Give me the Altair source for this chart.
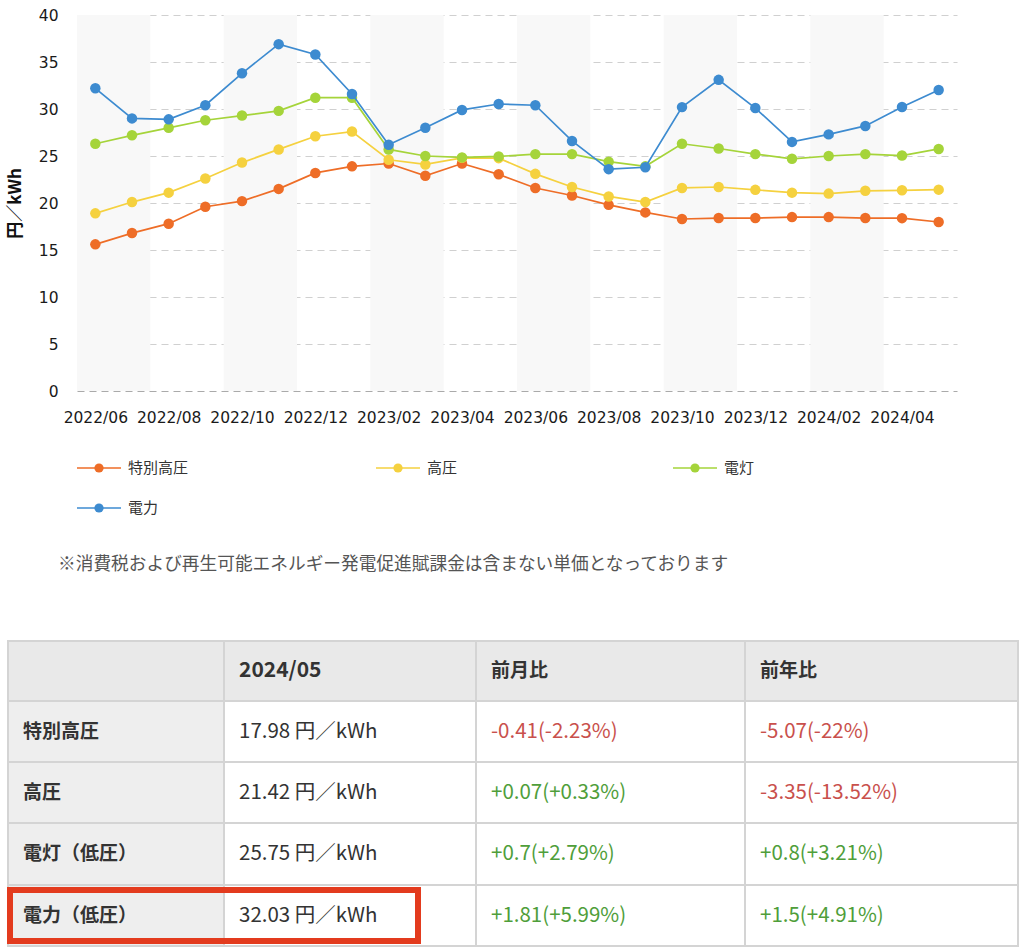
import json
import altair as alt
import pandas as pd

# ---------------- data ----------------
months = ["2022/06", "2022/07", "2022/08", "2022/09", "2022/10", "2022/11",
          "2022/12", "2023/01", "2023/02", "2023/03", "2023/04", "2023/05",
          "2023/06", "2023/07", "2023/08", "2023/09", "2023/10", "2023/11",
          "2023/12", "2024/01", "2024/02", "2024/03", "2024/04", "2024/05"]

series_names = ["特別高圧", "高圧", "電灯", "電力"]
series_colors = ["#ee6d27", "#f5d13f", "#a5d43a", "#3d8bd0"]

tokubetsu_koatsu = [15.6, 16.8, 17.8, 19.6, 20.2, 21.5, 23.2, 23.9, 24.2, 22.9, 24.2, 23.05,
                    21.6, 20.8, 19.8, 19.0, 18.3, 18.4, 18.4, 18.5, 18.5, 18.4, 18.39, 17.98]
koatsu = [18.9, 20.1, 21.1, 22.6, 24.3, 25.7, 27.1, 27.6, 24.6, 24.1, 24.8, 24.77,
          23.1, 21.7, 20.7, 20.1, 21.6, 21.7, 21.4, 21.1, 21.0, 21.3, 21.35, 21.42]
dento = [26.3, 27.2, 28.0, 28.8, 29.3, 29.8, 31.2, 31.2, 25.7, 25.0, 24.85, 24.95,
         25.2, 25.2, 24.4, 23.9, 26.3, 25.8, 25.2, 24.7, 25.0, 25.2, 25.05, 25.75]
denryoku = [32.2, 29.0, 28.9, 30.4, 33.8, 36.9, 35.8, 31.6, 26.2, 28.0, 29.9, 30.53,
            30.4, 26.6, 23.6, 23.8, 30.2, 33.1, 30.1, 26.5, 27.3, 28.2, 30.22, 32.03]
series_values = [tokubetsu_koatsu, koatsu, dento, denryoku]

y_title = "円／kWh"
note = "※消費税および再生可能エネルギー発電促進賦課金は含まない単価となっております"

table_header = ["", "2024/05", "前月比", "前年比"]
table_rows = ["特別高圧", "高圧", "電灯（低圧）", "電力（低圧）"]
table_current = ["17.98 円／kWh", "21.42 円／kWh", "25.75 円／kWh", "32.03 円／kWh"]
table_mom = ["-0.41(-2.23%)", "+0.07(+0.33%)", "+0.7(+2.79%)", "+1.81(+5.99%)"]
table_yoy = ["-5.07(-22%)", "-3.35(-13.52%)", "+0.8(+3.21%)", "+1.5(+4.91%)"]

# ---------------- layout constants ----------------
PLOT_W, PLOT_H = 880, 376
PLOT_LEFT, PLOT_BOTTOM = 77, 391
PAGE_W, PAGE_H = 1024, 952
LEG_X = [77, 376, 673]
LEG_Y = [468, 508]
NOTE_POS = (58, 565)
COL_EDGES = [8, 224, 476, 745, 1018]
ROW_EDGES = [641, 701, 762, 823, 885, 946]
CELL_PAD = 15
HILITE = (10, 418, 890, 941)

CJK = "Noto Sans CJK JP"

# ---------------- line chart ----------------
rows = []
for name, vals in zip(series_names, series_values):
    for i, v in enumerate(vals):
        rows.append({"i": i, "series": name, "v": v})
df = pd.DataFrame(rows)

shade_df = pd.DataFrame({
    "a": [k - 0.5 for k in range(0, len(months), 4)],
    "b": [k + 1.5 for k in range(0, len(months), 4)],
    "y0": 0, "y1": 40,
})

label_expr = json.dumps(months) + "[datum.value]"
xscale = alt.Scale(domain=[-0.5, len(months) - 0.5], nice=False, zero=False)
yscale = alt.Scale(domain=[0, 40], nice=False)
xaxis = alt.Axis(values=list(range(0, len(months), 2)), labelExpr=label_expr, title=None,
                 grid=False, ticks=False, domain=False, labelFont="DejaVu Sans",
                 labelFontSize=15.5, labelColor="#1a1a1a", labelPadding=19, labelFlush=False,
                 labelOverlap=False)
yaxis = alt.Axis(values=list(range(0, 41, 5)), title=y_title, titleFont=CJK, titleFontSize=17,
                 titleFontWeight="bold", titleColor="#111", titlePadding=14,
                 ticks=False, domain=False, labelFont="DejaVu Sans", labelFontSize=15.5,
                 labelColor="#1a1a1a", labelPadding=19, grid=True,
                 gridColor=alt.condition("datum.value === 0", alt.value("#aaaaaa"), alt.value("#d0d0d0")),
                 gridDash=[7, 5], gridWidth=1.2)

shade = alt.Chart(shade_df).mark_rect(color="#f8f8f8").encode(
    x=alt.X("a:Q", scale=xscale, axis=xaxis),
    x2="b:Q",
    y=alt.Y("y0:Q", scale=yscale, axis=yaxis),
    y2="y1:Q",
)

layers = [shade]
for name, color in zip(series_names, series_colors):
    sdf = df[df["series"] == name]
    base = alt.Chart(sdf).encode(
        x=alt.X("i:Q", scale=xscale, axis=xaxis),
        y=alt.Y("v:Q", scale=yscale, axis=yaxis),
    )
    layers.append(base.mark_line(color=color, strokeWidth=1.7))
    layers.append(base.mark_point(color=color, filled=True, opacity=1, size=110))

line_chart = alt.layer(*layers).properties(width=PLOT_W, height=PLOT_H)

# ---------------- bottom panel (legend, note, table) in page coordinates ----------------
BOT_H = PAGE_H - PLOT_BOTTOM
PX = alt.Scale(domain=[0, PAGE_W], range=[-PLOT_LEFT, PAGE_W - PLOT_LEFT], nice=False, zero=False)
PY = alt.Scale(domain=[PLOT_BOTTOM, PAGE_H], range=[0, BOT_H], nice=False, zero=False)


def px(f):
    return alt.X(f, type="quantitative", scale=PX, axis=None)


def py(f):
    return alt.Y(f, type="quantitative", scale=PY, axis=None)


anchor = alt.Chart(pd.DataFrame({"x": [0], "x2": [PAGE_W], "y": [0], "y2": [PAGE_H]})).mark_rect(
    opacity=0).encode(x=px("x"), x2="x2:Q", y=py("y"), y2="y2:Q")

leg_rows = []
for k, (name, color) in enumerate(zip(series_names, series_colors)):
    x0 = LEG_X[k % 3]
    yy = LEG_Y[k // 3]
    leg_rows.append({"name": name, "color": color, "x": x0, "x2": x0 + 44,
                     "cx": x0 + 22, "tx": x0 + 51, "y": yy})
leg_df = pd.DataFrame(leg_rows)
leg_line = alt.Chart(leg_df).mark_rule(strokeWidth=1.6).encode(
    x=px("x"), x2="x2:Q", y=py("y"), color=alt.Color("color:N", scale=None))
leg_dot = alt.Chart(leg_df).mark_point(filled=True, opacity=1, size=85).encode(
    x=px("cx"), y=py("y"), color=alt.Color("color:N", scale=None))
leg_text = alt.Chart(leg_df).mark_text(align="left", baseline="middle", font=CJK,
                                       fontSize=15, color="#333").encode(
    x=px("tx"), y=py("y"), text="name:N")

note_layer = alt.Chart(pd.DataFrame({"x": [NOTE_POS[0]], "y": [NOTE_POS[1]], "t": [note]})).mark_text(
    align="left", baseline="middle", font=CJK, fontSize=17.7, color="#555").encode(
    x=px("x"), y=py("y"), text="t:N")

cells = []
grid_text = [table_header] + [[r, c, m, y] for r, c, m, y in zip(table_rows, table_current, table_mom, table_yoy)]
for r, row in enumerate(grid_text):
    for c, txt in enumerate(row):
        if r == 0:
            fill = "#e9e9e9"
        elif c == 0:
            fill = "#eeeeee"
        else:
            fill = "#ffffff"
        bold = (r == 0) or (c == 0)
        if r > 0 and c >= 2:
            tcolor = "#c9504c" if txt.startswith("-") else "#4f9e3a"
        else:
            tcolor = "#333333"
        cells.append({"x": COL_EDGES[c], "x2": COL_EDGES[c + 1], "y": ROW_EDGES[r], "y2": ROW_EDGES[r + 1],
                      "tx": COL_EDGES[c] + CELL_PAD, "ty": (ROW_EDGES[r] + ROW_EDGES[r + 1]) / 2,
                      "fill": fill, "text": txt, "tcolor": tcolor, "bold": bold,
                      "fs": 21 if (r == 0 and c == 1) else 19})
cells_df = pd.DataFrame(cells)

cell_rect = alt.Chart(cells_df).mark_rect(stroke="#d4d4d4", strokeWidth=2).encode(
    x=px("x"), x2="x2:Q", y=py("y"), y2="y2:Q", fill=alt.Fill("fill:N", scale=None))
cell_bold = alt.Chart(cells_df[cells_df["bold"]]).mark_text(
    align="left", baseline="middle", font=CJK, fontWeight="bold").encode(
    x=px("tx"), y=py("ty"), text="text:N", color=alt.Color("tcolor:N", scale=None),
    size=alt.Size("fs:Q", scale=None))
cell_norm = alt.Chart(cells_df[~cells_df["bold"]]).mark_text(
    align="left", baseline="middle", font=CJK, fontSize=20.5).encode(
    x=px("tx"), y=py("ty"), text="text:N", color=alt.Color("tcolor:N", scale=None))

hl = alt.Chart(pd.DataFrame({"x": [HILITE[0]], "x2": [HILITE[1]], "y": [HILITE[2]], "y2": [HILITE[3]]})).mark_rect(
    fill="transparent", stroke="#e33b1e", strokeWidth=6).encode(
    x=px("x"), x2="x2:Q", y=py("y"), y2="y2:Q")

bottom = alt.layer(anchor, leg_line, leg_dot, leg_text, note_layer, cell_rect, cell_bold, cell_norm, hl).properties(
    width=PLOT_W, height=BOT_H)

chart = alt.vconcat(line_chart, bottom, spacing=0, bounds="flush").properties(
    padding=0, background="white"
).configure_view(strokeWidth=0)

chart.save("out.html", embed_options={"renderer": "svg", "actions": False})
